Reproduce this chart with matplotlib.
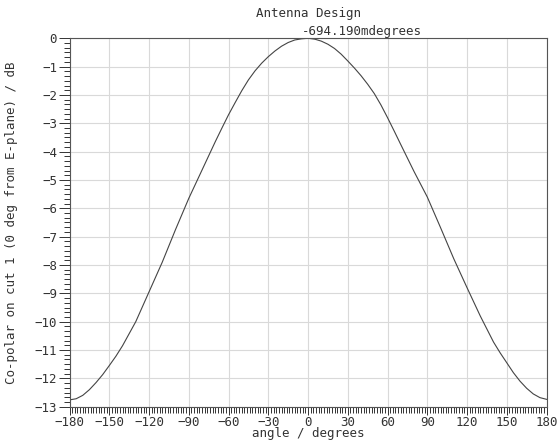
import matplotlib
matplotlib.use("Agg")
import matplotlib.pyplot as plt
from matplotlib.ticker import MultipleLocator, AutoMinorLocator
import numpy as np

# values (denser where the curve bends)
angle = [-180, -175, -170, -165, -160, -155, -150, -145, -140, -130, -120,
         -110, -100, -90, -80, -70, -65, -60, -55, -50, -45, -40, -35, -30,
         -25, -20, -15, -10, -5, 0, 5, 10, 15, 20, 25, 30, 35, 40, 45, 50,
         55, 60, 65, 70, 80, 90, 100, 110, 120, 130, 140, 145, 150, 155,
         160, 165, 170, 175, 180]
co_polar = [-12.76, -12.72, -12.6, -12.4, -12.15, -11.87, -11.55, -11.22,
            -10.85, -10.0, -8.95, -7.9, -6.75, -5.65, -4.65, -3.65, -3.17,
            -2.7, -2.27, -1.85, -1.47, -1.15, -0.88, -0.65, -0.45, -0.28,
            -0.15, -0.06, -0.02, 0.0, -0.03, -0.1, -0.21, -0.36, -0.56,
            -0.8, -1.05, -1.32, -1.62, -1.95, -2.35, -2.8, -3.27, -3.75,
            -4.7, -5.6, -6.68, -7.78, -8.8, -9.8, -10.72, -11.1, -11.45,
            -11.8, -12.1, -12.35, -12.55, -12.68, -12.74]
peak_angle = -0.694
peak_label = "-694.190mdegrees"

font = "DejaVu Sans Mono"
ink = "#333333"

fig = plt.figure(figsize=(5.57, 4.41), dpi=100)
ax = fig.add_axes([0.1248, 0.0778, 0.8564, 0.8354])

ax.plot(angle, co_polar, color="#444444", linewidth=0.8)

ax.set_xlim(-180, 180)
ax.set_ylim(-13, 0)
ax.xaxis.set_major_locator(MultipleLocator(30))
ax.xaxis.set_minor_locator(AutoMinorLocator(15))
ax.yaxis.set_major_locator(MultipleLocator(1))
ax.yaxis.set_minor_locator(AutoMinorLocator(6))
ax.grid(True, which="major", color="#d9d9d9", linewidth=0.8)
ax.set_axisbelow(True)

ax.tick_params(axis="both", which="both", direction="out", colors=ink,
               width=0.7, labelsize=9)
ax.tick_params(axis="y", which="major", length=8, pad=1)
ax.tick_params(axis="y", which="minor", length=4.5)
ax.tick_params(axis="x", which="major", length=5.5, pad=1)
ax.tick_params(axis="x", which="minor", length=4.5)
for lab in ax.get_xticklabels() + ax.get_yticklabels():
    lab.set_family(font)
for s in ax.spines.values():
    s.set_color("#555555")
    s.set_linewidth(0.8)

ax.set_xlabel("angle / degrees", family=font, fontsize=9, color=ink, labelpad=-1)
ax.set_ylabel("Co-polar on cut 1 (0 deg from E-plane) / dB", family=font,
              fontsize=9, color=ink, labelpad=12)
fig.text(0.553, 1 - 14 / 441, "Antenna Design", family=font, fontsize=9,
         color=ink, ha="center", va="center")

ax.annotate(peak_label, xy=(peak_angle, 0), xytext=(-3.5, 2.2),
            textcoords="offset points", ha="left", va="baseline",
            family=font, fontsize=9, color=ink, annotation_clip=False)

fig.savefig("out.png", dpi=100)
